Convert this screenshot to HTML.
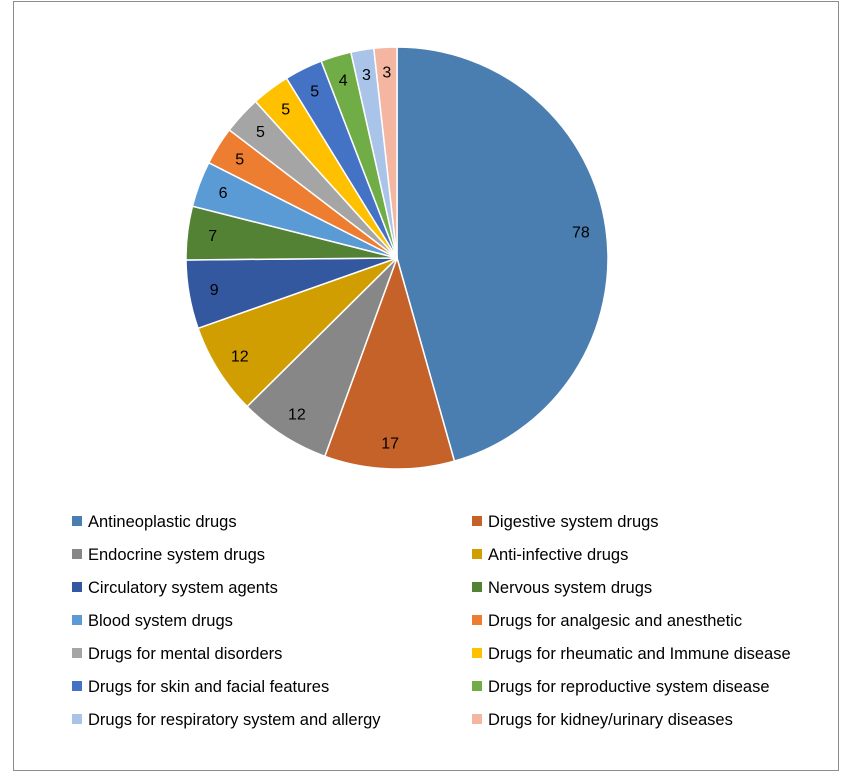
<!DOCTYPE html>
<html><head><meta charset="utf-8"><style>
body{margin:0;background:#fff;width:848px;height:774px;overflow:hidden;font-family:"Liberation Sans",sans-serif}
svg text{font-family:"Liberation Sans",sans-serif}
</style></head><body>
<svg id="chart" width="848" height="774" xmlns="http://www.w3.org/2000/svg">
<rect x="13.5" y="1.5" width="825" height="769" fill="#fff" stroke="#8c8c8c" stroke-width="1"/>
<g id="slices"></g><g id="labels"></g><g id="legend"></g>
</svg>
<script>
const categories=["Antineoplastic drugs","Digestive system drugs","Endocrine system drugs","Anti-infective drugs","Circulatory system agents","Nervous system drugs","Blood system drugs","Drugs for analgesic and anesthetic","Drugs for mental disorders","Drugs for rheumatic and Immune disease","Drugs for skin and facial features","Drugs for reproductive system disease","Drugs for respiratory system and allergy","Drugs for kidney/urinary diseases"];
const values=[78,17,12,12,9,7,6,5,5,5,5,4,3,3];
const colors=["#4a7eb0","#c5622a","#878787","#d09e00","#3458a0","#548235","#5b9bd5","#ed7d31","#a5a5a5","#ffc000","#4472c4","#70ad47","#a9c4e8","#f4b6a0"];
const NS="http://www.w3.org/2000/svg";
const cx=397,cy=258,r=211;
const total=values.reduce((a,b)=>a+b,0);
const sl=document.getElementById('slices'),lb=document.getElementById('labels'),lg=document.getElementById('legend');
function pt(a,rr){return [cx+rr*Math.sin(a),cy-rr*Math.cos(a)];}
let acc=0;
values.forEach((v,i)=>{
  const a0=acc/total*2*Math.PI;acc+=v;const a1=acc/total*2*Math.PI;
  const p0=pt(a0,r),p1=pt(a1,r);
  const large=(a1-a0)>Math.PI?1:0;
  const p=document.createElementNS(NS,'path');
  p.setAttribute('d',`M${cx},${cy}L${p0[0]},${p0[1]}A${r},${r} 0 ${large} 1 ${p1[0]},${p1[1]}Z`);
  p.setAttribute('fill',colors[i]);p.setAttribute('stroke','#fff');p.setAttribute('stroke-width','1.5');
  
  
  sl.appendChild(p);
  const am=(a0+a1)/2;const lp=pt(am,r*0.88);
  const t=document.createElementNS(NS,'text');
  t.setAttribute('x',lp[0]);t.setAttribute('y',lp[1]+5);t.setAttribute('text-anchor','middle');t.setAttribute('font-size','16');t.setAttribute('fill','#000');
  t.textContent=v;
  
  
  lb.appendChild(t);
});
categories.forEach((c,i)=>{
  const col=i%2,row=Math.floor(i/2);
  const x=col?472:72,y=521+row*33;
  const g=document.createElementNS(NS,'g');
  
  
  const s=document.createElementNS(NS,'rect');
  s.setAttribute('x',x);s.setAttribute('y',y-5);s.setAttribute('width',10);s.setAttribute('height',10);s.setAttribute('fill',colors[i]);
  
  
  const t=document.createElementNS(NS,'text');
  t.setAttribute('x',x+16);t.setAttribute('y',y+6);t.setAttribute('font-size','16.5');t.setAttribute('fill','#000');
  t.textContent=c;
  
  
  g.appendChild(s);g.appendChild(t);lg.appendChild(g);
});
</script>
</body></html>
